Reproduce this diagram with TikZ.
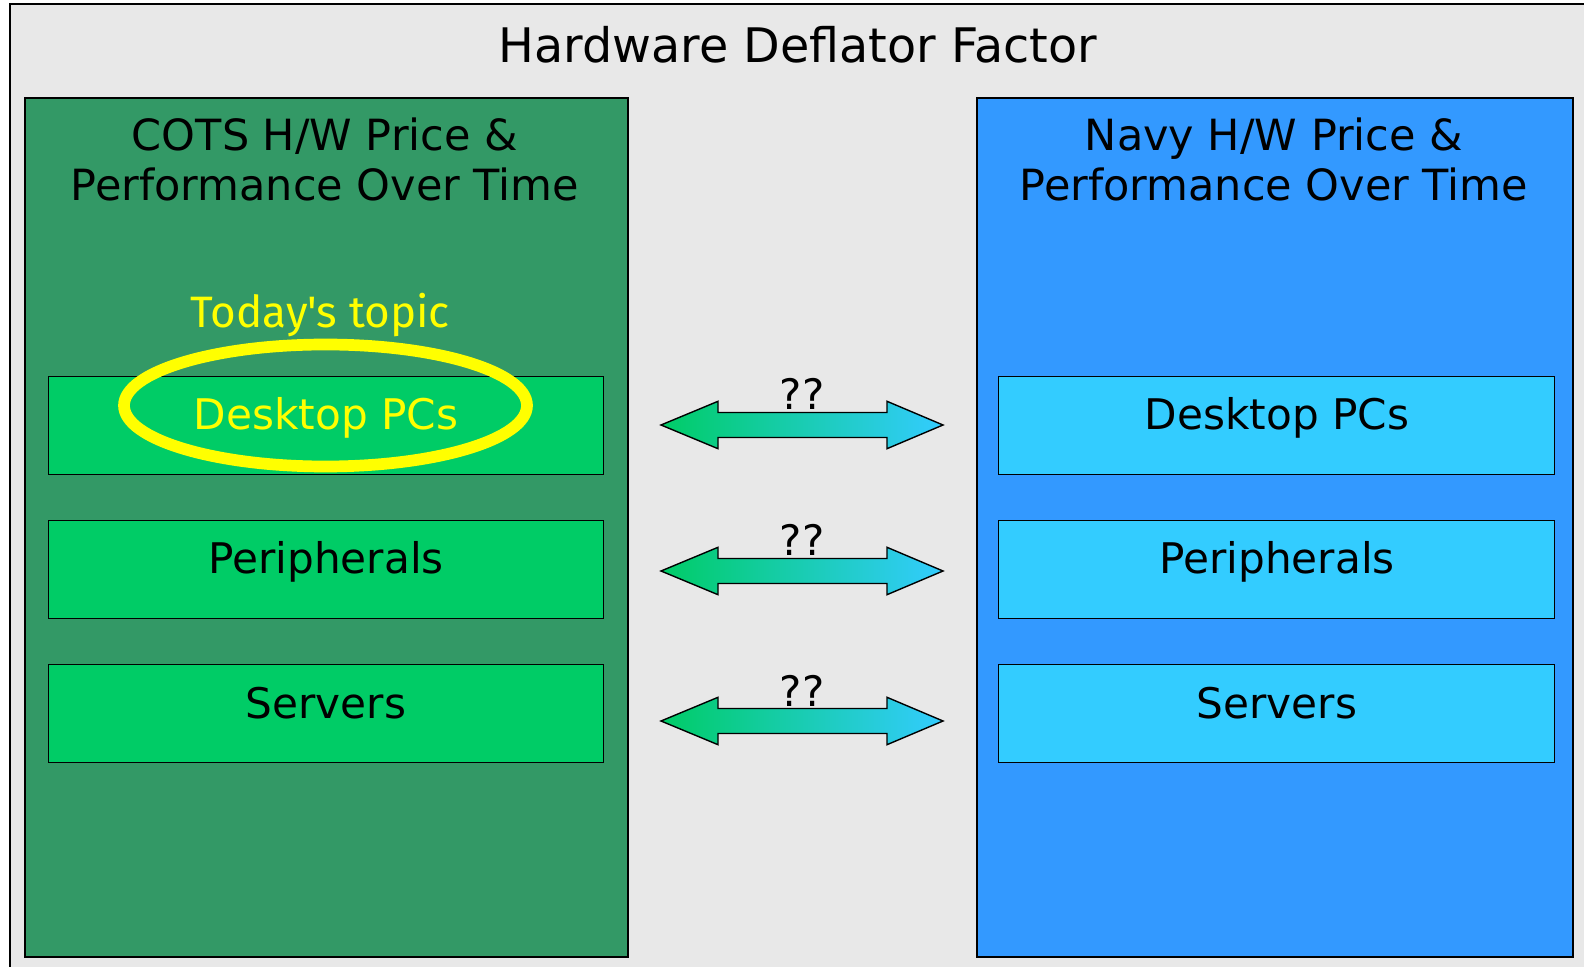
\documentclass[tikz,border=0pt]{standalone}
\usepackage{fontspec}
\setmainfont{DejaVu Sans}
\newfontfamily\handfont{Fira Sans}
\definecolor{bg}{HTML}{E8E8E8}
\definecolor{pgreen}{HTML}{339966}
\definecolor{igreen}{HTML}{00CC66}
\definecolor{pblue}{HTML}{3399FF}
\definecolor{iblue}{HTML}{33CCFF}
\definecolor{hl}{HTML}{FFFF00}
\tikzset{
  panel/.style={draw=black, line width=1pt, anchor=north west, inner sep=0pt, minimum height=429.5pt},
  item/.style={draw=black, line width=0.7pt, anchor=north west, inner sep=0pt, minimum height=49pt},
  itemtext/.style={anchor=base, inner sep=0pt, font=\fontsize{21.1}{25}\selectfont},
  ptitle/.style={anchor=base, inner sep=0pt, align=center, font=\fontsize{21.5}{25.5}\selectfont},
  dblarrow/.style={draw=black, line width=0.7pt, left color=igreen, right color=iblue},
  qq/.style={anchor=base, inner sep=0pt, font=\fontsize{21}{25}\selectfont}
}
\begin{document}
\begin{tikzpicture}[x=0.5pt,y=-0.5pt]
\useasboundingbox (0,0) rectangle (1584,967);
\fill[white] (0,0) rectangle (1584,967);
\begin{scope}
\clip (0,0) rectangle (1584,967);
\draw[line width=1pt, fill=bg] (10,4) rectangle (1600,990);
\end{scope}

\node[anchor=base, inner sep=0pt, font=\fontsize{23.8}{28}\selectfont] (title) at (798,63) {Hardware Deflator Factor};

% panels
\node[panel, fill=pgreen, minimum width=301.5pt] (lp) at (24,97) {};
\node[panel, fill=pblue, minimum width=298pt] (rp) at (976,97) {};

\node[ptitle] (lt1) at (325,151) {COTS H/W Price \&};
\node[ptitle] (lt2) at (325,201) {Performance Over Time};
\node[ptitle] (rt1) at (1274,151) {Navy H/W Price \&};
\node[ptitle] (rt2) at (1274,201) {Performance Over Time};

% left items
\node[item, fill=igreen, minimum width=277.75pt] (l1) at (47.5,376) {};
\node[item, fill=igreen, minimum width=277.75pt] (l2) at (47.5,520) {};
\node[item, fill=igreen, minimum width=277.75pt] (l3) at (47.5,664) {};
\node[itemtext, text=hl] (l1t) at (326,430) {Desktop PCs};
\node[itemtext] (l2t) at (326,574) {Peripherals};
\node[itemtext] (l3t) at (326,718) {Servers};

% right items
\node[item, fill=iblue, minimum width=278pt] (r1) at (998,376) {};
\node[item, fill=iblue, minimum width=278pt] (r2) at (998,520) {};
\node[item, fill=iblue, minimum width=278pt] (r3) at (998,664) {};
\node[itemtext] (r1t) at (1277,430) {Desktop PCs};
\node[itemtext] (r2t) at (1277,574) {Peripherals};
\node[itemtext] (r3t) at (1277,718) {Servers};

% highlight
\node[anchor=base, inner sep=0pt, text=hl, font=\handfont\fontsize{22}{26}\selectfont] (topic) at (320,328) {Today's topic};
\coordinate (ec) at (325.5,405.5);
\draw[hl, line width=5.85pt] (ec) ellipse [x radius=100.75pt, y radius=30.5pt];

% double arrows
\foreach \cy/\nm in {425/a1, 571/a2, 721/a3}{
  \draw[dblarrow, shift={(0,\cy)}] (661,0) -- (718,-23.7) -- (718,-12.5) -- (887,-12.5) -- (887,-23.7) -- (943,0) -- (887,23.7) -- (887,12.5) -- (718,12.5) -- (718,23.7) -- cycle;
  \node[qq] (\nm) at (802,\cy-15) {??};
}
\end{tikzpicture}
\end{document}
